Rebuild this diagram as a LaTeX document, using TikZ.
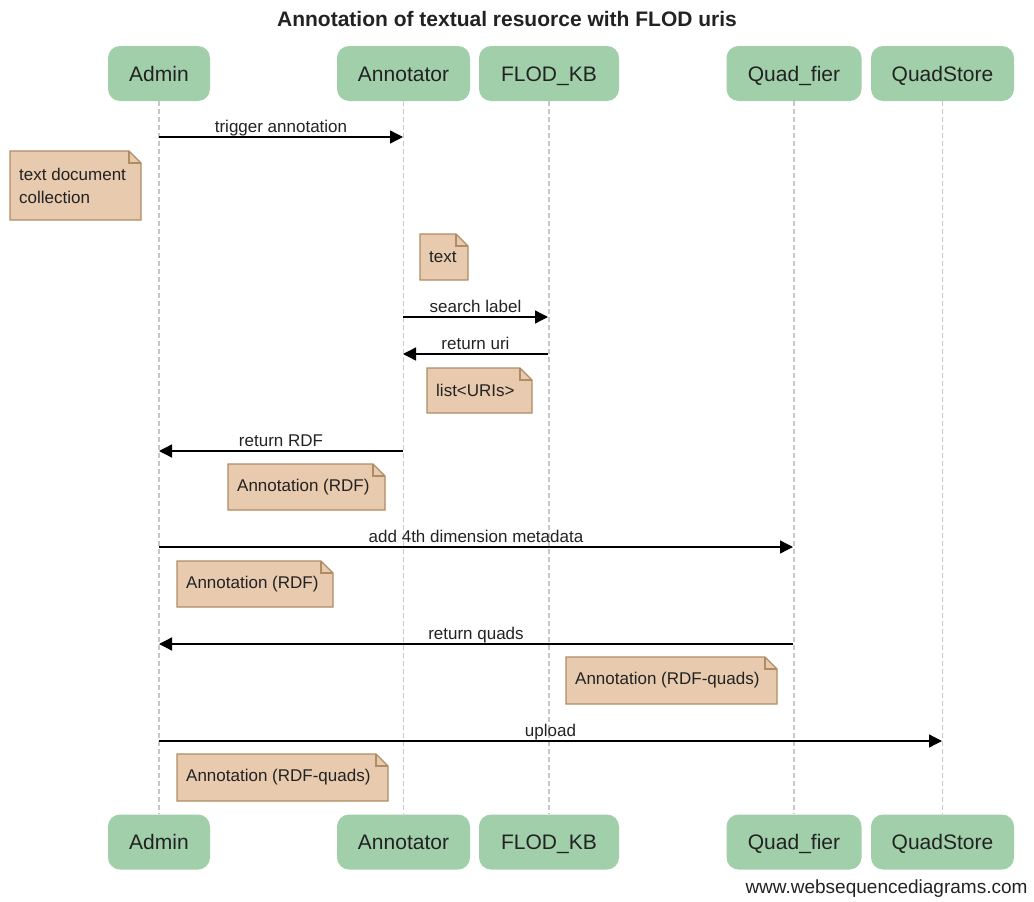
\documentclass[tikz,border=0pt]{standalone}
\usepackage{fontspec}
\setmainfont{Liberation Sans}
\usetikzlibrary{arrows.meta}
\definecolor{partfill}{HTML}{A0CFAA}
\definecolor{notefill}{HTML}{E8CAAF}
\definecolor{noteedge}{HTML}{B08C64}
\definecolor{lifegray}{HTML}{C8C8C8}
\definecolor{txt}{HTML}{222222}
\newcommand{\mknote}[6]{%
  \draw[noteline] ({#2},{#3}) -- ({#4-12},{#3}) -- ({#4},{#3+12}) -- ({#4},{#5}) -- ({#2},{#5}) -- cycle;
  \draw[noteline, fill=none] ({#4-12},{#3}) -- ({#4-12},{#3+12}) -- ({#4},{#3+12});
  \node[notetext, anchor=west] (#1) at ({#2+9},{(#3+#5)/2}) {#6};
}
\begin{document}
\begin{tikzpicture}[x=1pt,y=-1pt,
  part/.style={fill=partfill, rounded corners=12pt, minimum height=55pt, inner sep=0pt, text height=15pt, text depth=0pt, font=\fontsize{21}{25}\selectfont, text=txt},
  lifeline/.style={draw=lifegray, line width=1.2pt, dash pattern=on 5pt off 3pt},
  msg/.style={draw=black, line width=1.3pt, -{Triangle[length=13pt,width=13pt]}},
  msglabel/.style={font=\fontsize{17}{20}\selectfont, inner sep=0pt, text height=12pt, text depth=4pt, anchor=south, text=txt},
  noteline/.style={draw=noteedge, fill=notefill, line width=1.2pt, line join=miter},
  notetext/.style={font=\fontsize{17}{23}\selectfont, align=left, inner sep=0pt, text=txt}
]
\useasboundingbox (0,0) rectangle (1034,902);

\node[font=\bfseries\fontsize{21}{25}\selectfont, text=txt] (title) at (507,19) {Annotation of textual resuorce with FLOD uris};

% participants top
\node[part, minimum width=102pt] (admin) at (159,73.5) {Admin};
\node[part, minimum width=133pt] (annot) at (403.5,73.5) {Annotator};
\node[part, minimum width=140pt] (flod) at (549,73.5) {FLOD\_KB};
\node[part, minimum width=135pt] (quad) at (794,73.5) {Quad\_fier};
\node[part, minimum width=143pt] (store) at (942.5,73.5) {QuadStore};
% participants bottom
\node[part, minimum width=102pt] (adminB) at (159,842) {Admin};
\node[part, minimum width=133pt] (annotB) at (403.5,842) {Annotator};
\node[part, minimum width=140pt] (flodB) at (549,842) {FLOD\_KB};
\node[part, minimum width=135pt] (quadB) at (794,842) {Quad\_fier};
\node[part, minimum width=143pt] (storeB) at (942.5,842) {QuadStore};

% lifelines
\draw[lifeline] (admin.south) -- (adminB.north);
\draw[lifeline] (annot.south) -- (annotB.north);
\draw[lifeline] (flod.south) -- (flodB.north);
\draw[lifeline] (quad.south) -- (quadB.north);
\draw[lifeline] (store.south) -- (storeB.north);

% messages
\coordinate (m1s) at (159,137); \coordinate (m1e) at (403,137);
\draw[msg] (m1s) -- node[msglabel] {trigger annotation} (m1e);

\mknote{n1}{10}{151}{141}{220}{text document\\collection}
\mknote{n2}{420}{234}{468}{280}{text}

\coordinate (m2s) at (403,317); \coordinate (m2e) at (548,317);
\draw[msg] (m2s) -- node[msglabel] {search label} (m2e);
\coordinate (m3s) at (548,354); \coordinate (m3e) at (403,354);
\draw[msg] (m3s) -- node[msglabel] {return uri} (m3e);

\mknote{n3}{427}{368}{532}{413}{list<URIs>}

\coordinate (m4s) at (403,451); \coordinate (m4e) at (159,451);
\draw[msg] (m4s) -- node[msglabel] {return RDF} (m4e);

\mknote{n4}{228}{464}{385}{510}{Annotation (RDF)}

\coordinate (m5s) at (159,547); \coordinate (m5e) at (793,547);
\draw[msg] (m5s) -- node[msglabel] {add 4th dimension metadata} (m5e);

\mknote{n5}{177}{561}{333}{607}{Annotation (RDF)}

\coordinate (m6s) at (793,644); \coordinate (m6e) at (159,644);
\draw[msg] (m6s) -- node[msglabel] {return quads} (m6e);

\mknote{n6}{566}{657}{777}{704}{Annotation (RDF-quads)}

\coordinate (m7s) at (159,741); \coordinate (m7e) at (942,741);
\draw[msg] (m7s) -- node[msglabel] {upload} (m7e);

\mknote{n7}{177}{754}{388}{801}{Annotation (RDF-quads)}

\node[anchor=east, font=\fontsize{19}{22}\selectfont, text=txt] (footer) at (1031,889) {www.websequencediagrams.com};
\end{tikzpicture}
\end{document}
